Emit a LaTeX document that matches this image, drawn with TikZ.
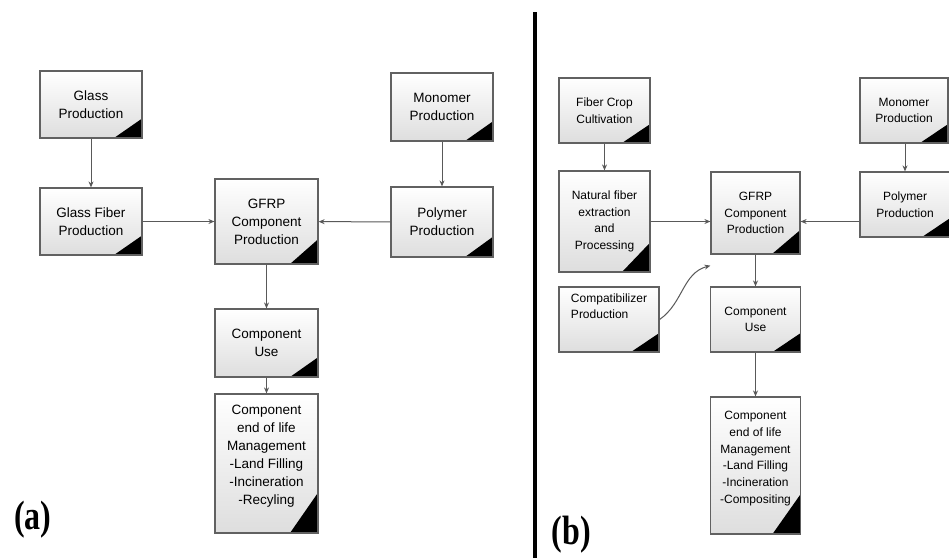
\documentclass[tikz,border=0pt]{standalone}
\usepackage{fontspec}
\usepackage{graphicx}
\setmainfont{Liberation Sans}
\newfontfamily\tagfont{Liberation Serif}
\usetikzlibrary{arrows.meta,calc}
\tikzset{
  box/.style={draw=black!62, line width=1.2pt, top color=white, bottom color=black!13,
    inner sep=0pt, align=center,
    path picture={\fill[black] let \p1=(path picture bounding box.south east),
      \p2=(path picture bounding box.north east) in
      (\x1,\y1) -- (\x1-28pt,\y1) -- (\x1,{\y1+0.29*(\y2-\y1)}) -- cycle;}},
  boxa/.style={box, font=\fontsize{13.5}{18}\selectfont},
  boxb/.style={box, font=\fontsize{12}{16.7}\selectfont},
  conn/.style={draw=black!65, line width=1pt, -{Stealth[length=6pt,width=5pt]}},
  tag/.style={font=\tagfont\bfseries\fontsize{32}{36}\selectfont, inner sep=0pt}
}
\begin{document}
\begin{tikzpicture}[x=1pt,y=-1pt]
\useasboundingbox (0,0) rectangle (949,558);
\fill[white] (0,0) rectangle (949,558);
% panel (a)
\node[boxa, minimum width=102pt, minimum height=67pt] (ga) at (91,104.5) {Glass\\Production};
\node[boxa, minimum width=102pt, minimum height=67pt] (gf) at (91,221.5) {Glass Fiber\\Production};
\node[boxa, minimum width=103pt, minimum height=85pt] (gfrpa) at (266.5,221.5) {GFRP\\Component\\Production};
\node[boxa, minimum width=103pt, minimum height=68pt] (usea) at (266.5,343) {Component\\Use};
\node[boxa, minimum width=103pt, minimum height=139pt] (eola) at (266.5,463.5) {Component\\end of life\\Management\\-Land Filling\\-Incineration\\-Recyling\\\mbox{}};
\node[boxa, minimum width=102pt, minimum height=68pt] (mona) at (442,107) {Monomer\\Production};
\node[boxa, minimum width=102pt, minimum height=70pt] (polya) at (442,222) {Polymer\\Production};
\draw[conn] (ga) -- (gf);
\draw[conn] (gf) -- (gfrpa);
\draw[conn] (polya) -- (gfrpa);
\draw[conn] (mona) -- (polya);
\draw[conn] (gfrpa) -- (usea);
\draw[conn] (usea) -- (eola);
\node[tag] (taga) at (33,520) {\scalebox{1}[1.28]{(a)}};
% divider
\draw[line width=4.5pt] (535,12) -- (535,558);
% panel (b)
\node[boxb, minimum width=91pt, minimum height=65pt] (fcb) at (604.5,110.5) {Fiber Crop\\Cultivation};
\node[boxb, minimum width=91pt, minimum height=101pt] (natb) at (604.5,221.5) {Natural fiber\\extraction\\and\\Processing};
\node[boxb, minimum width=100pt, minimum height=65pt, align=left] (compb) at (609,319.5) {Compatibilizer\\Production\\[10pt]\mbox{}};
\node[boxb, minimum width=89pt, minimum height=82pt] (gfrpb) at (755.5,213) {GFRP\\Component\\Production};
\node[boxb, minimum width=90pt, minimum height=65pt] (useb) at (755.5,319.5) {Component\\Use};
\node[boxb, minimum width=90pt, minimum height=137pt] (eolb) at (755.5,465.5) {Component\\end of life\\Management\\-Land Filling\\-Incineration\\-Compositing\\\mbox{}};
\node[boxb, minimum width=88pt, minimum height=65pt] (monb) at (904,110.5) {Monomer\\Production};
\node[boxb, minimum width=90pt, minimum height=65pt] (polyb) at (905,204.5) {Polymer\\Production};
\draw[conn] (fcb.south -| natb.north) -- (natb.north);
\draw[conn] (natb.east) -- (natb.east -| gfrpb.west);
\draw[conn] (polyb.west |- natb.east) -- (gfrpb.east |- natb.east);
\draw[conn] (monb.south -| polyb.north) -- (polyb.north);
\draw[conn] (gfrpb.south) -- (useb.north);
\draw[conn] (useb.south) -- (eolb.north);
\draw[conn] (compb.east) to[out=35, in=195] ([yshift=-11pt]gfrpb.south west);
\node[tag] (tagb) at (571.5,535) {\scalebox{1}[1.28]{(b)}};
\end{tikzpicture}
\end{document}
